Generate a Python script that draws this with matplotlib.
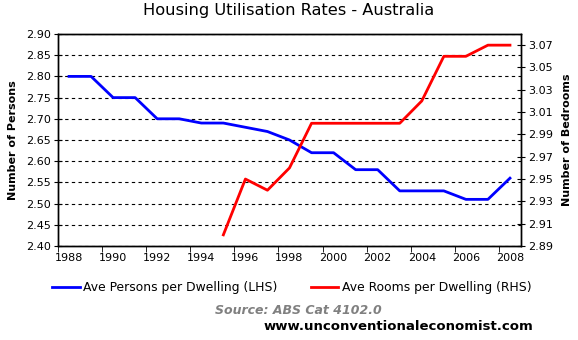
import matplotlib
matplotlib.use("Agg")
import matplotlib.pyplot as plt
from matplotlib.lines import Line2D

# data (one value per year)
years = list(range(1988, 2009))
persons = [2.80, 2.80, 2.75, 2.75, 2.70, 2.70, 2.69, 2.69, 2.68, 2.67, 2.65,
           2.62, 2.62, 2.58, 2.58, 2.53, 2.53, 2.53, 2.51, 2.51, 2.56]
room_years = list(range(1995, 2009))
rooms = [2.90, 2.95, 2.94, 2.96, 3.00, 3.00, 3.00, 3.00, 3.00, 3.02,
         3.06, 3.06, 3.07, 3.07]

W, H = 578, 340
fig = plt.figure(figsize=(W / 100, H / 100), dpi=100)
fig.patch.set_facecolor("white")

# plot area in pixels
left, right, top, bottom = 58, 521, 34, 246
ax = fig.add_axes([left / W, 1 - bottom / H, (right - left) / W, (bottom - top) / H])

ax.plot(years, persons, color="#0000ff", lw=2)
ax.set_xlim(1987.5, 2008.5)
ax.set_ylim(2.40, 2.90)
ax.set_yticks([2.40 + 0.05 * i for i in range(11)])
ax.set_yticklabels(["%.2f" % (2.40 + 0.05 * i) for i in range(11)], fontsize=8)
ax.yaxis.grid(True, color="black", linestyle=(0, (3, 3)), lw=0.8)

# year labels centred on categories, tick marks between categories
ax.set_xticks(years[::2])
ax.set_xticklabels([str(y) for y in years[::2]], fontsize=8)
ax.tick_params(axis="x", which="major", length=0, pad=5)
ax.set_xticks([y - 0.5 for y in years[::2]], minor=True)
ax.tick_params(axis="x", which="minor", length=4, direction="out")
ax.tick_params(axis="y", length=6, direction="inout", pad=2)

ax2 = ax.twinx()
ax2.plot(room_years, rooms, color="#ff0000", lw=2)
ax2.set_ylim(2.89, 3.08)
ax2.set_yticks([2.89 + 0.02 * i for i in range(10)])
ax2.set_yticklabels(["%.2f" % (2.89 + 0.02 * i) for i in range(10)], fontsize=8)
ax2.tick_params(axis="y", length=6, direction="inout", pad=2)

for a in (ax, ax2):
    for s in a.spines.values():
        s.set_linewidth(1)
        s.set_color("black")

fig.text(289 / W, 1 - 11 / H, "Housing Utilisation Rates - Australia",
         ha="center", va="center", fontsize=11.7)
fig.text(13 / W, 1 - 140 / H, "Number of Persons", rotation=90,
         ha="center", va="center", fontsize=8, fontweight="bold")
fig.text(567 / W, 1 - 140 / H, "Number of Bedrooms", rotation=90,
         ha="center", va="center", fontsize=8, fontweight="bold")

# legend
handles = [Line2D([], [], color="#0000ff", lw=2),
           Line2D([], [], color="#ff0000", lw=2)]
fig.legend(handles, ["Ave Persons per Dwelling (LHS)", "Ave Rooms per Dwelling (RHS)"],
           loc="center", bbox_to_anchor=(292 / W, 1 - 288 / H), ncol=2,
           frameon=False, fontsize=8.9, handlelength=2.2, handletextpad=0.3,
           columnspacing=2.7)

fig.text(298 / W, 1 - 311 / H, "Source: ABS Cat 4102.0", ha="center", va="center",
         fontsize=9, fontstyle="italic", fontweight="bold", color="#808080")
fig.text(398 / W, 1 - 327 / H, "www.unconventionaleconomist.com", ha="center",
         va="center", fontsize=9.5, fontweight="bold", color="black")

fig.savefig("out.png", dpi=100)
